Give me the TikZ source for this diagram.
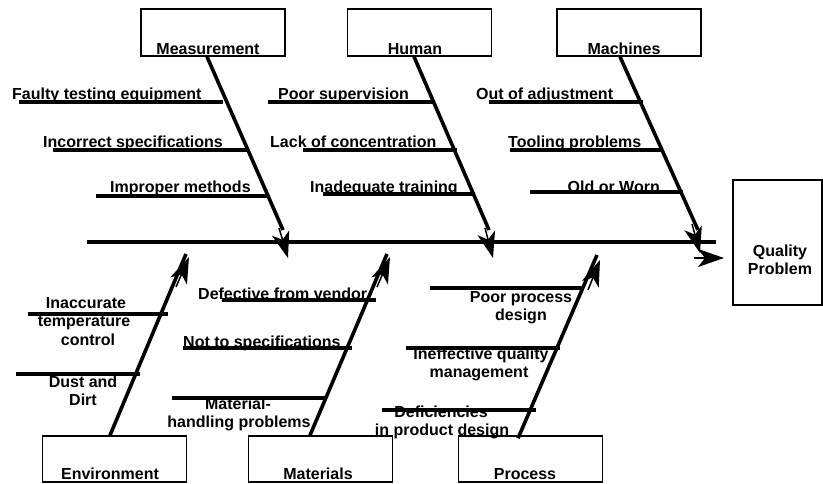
\documentclass[tikz,border=0pt]{standalone}
\usepackage{fontspec}
\setmainfont{Liberation Sans}
\usetikzlibrary{arrows.meta}
\begin{document}
\begin{tikzpicture}[x=1pt,y=-1pt,
  box/.style={draw, line width=1.4pt, rectangle, inner sep=0pt},
  catbox/.style={box, minimum width=144pt, minimum height=47pt},
  bone/.style={line width=3.6pt},
  rib/.style={line width=3.2pt},
  spine/.style={line width=3.6pt},
  head/.style={line width=1.5pt, -{Stealth[length=26pt,width=18pt,inset=7pt]}},
  lbl/.style={font=\bfseries\fontsize{16}{19}\selectfont, inner sep=0pt, anchor=base}]
\useasboundingbox (0,0) rectangle (823,483);

% category boxes
\node[catbox] (meas) at (213,32.5) {};
\node[catbox] (human) at (419.5,32.5) {};
\node[catbox] (mach) at (629,32.5) {};
\node[catbox, minimum height=46pt] (env) at (114.5,459) {};
\node[catbox, minimum height=46pt] (mat) at (320.5,459) {};
\node[catbox, minimum height=46pt] (proc) at (530.5,459) {};
\node[box, minimum width=89pt, minimum height=125pt] (qp) at (777.5,242.5) {};

% box captions
\node[lbl] (measlbl) at (208,54) {Measurement};
\node[lbl] (humanlbl) at (415,54) {Human};
\node[lbl] (machlbl) at (624,54) {Machines};
\node[lbl] (envlbl) at (110,479) {Environment};
\node[lbl] (matlbl) at (318,479) {Materials};
\node[lbl] (proclbl) at (525,479) {Process};
\node[lbl] (qlbla) at (780,256) {Quality};
\node[lbl] (qlblb) at (780,274) {Problem};

% spine
\coordinate (sL) at (87,242);
\coordinate (sR) at (716,242);
\draw[spine] (sL) -- (sR);
\coordinate (qa) at (694,258);
\coordinate (qin) at (733,258);
\draw[head, shorten >=9pt] (qa) -- (qin);

% upper bones
\coordinate (mB) at (283,230);
\coordinate (hB) at (489,230);
\coordinate (cB) at (698,230);
\draw[bone] (meas.south -| 207,0) -- (mB);
\draw[bone] (human.south -| 414,0) -- (hB);
\draw[bone] (mach.south -| 620,0) -- (cB);
\coordinate (mH1) at (279,228); \coordinate (mH2) at (288,258);
\coordinate (hH1) at (485,228); \coordinate (hH2) at (493,258);
\coordinate (cH1) at (692,224); \coordinate (cH2) at (700,253);
\draw[head] (mH1) -- (mH2);
\draw[head] (hH1) -- (hH2);
\draw[head] (cH1) -- (cH2);

% lower bones
\coordinate (eT) at (186,254);
\coordinate (tT) at (387,254);
\coordinate (pT) at (597,255);
\draw[bone] (env.north -| 110,0) -- (eT);
\draw[bone] (mat.north -| 310,0) -- (tT);
\draw[bone] (proc.north -| 518,0) ++(0,3) -- (pT);
\coordinate (eH1) at (176,287); \coordinate (eH2) at (189,257);
\coordinate (tH1) at (377,287); \coordinate (tH2) at (390,257);
\coordinate (pH1) at (588,290); \coordinate (pH2) at (600,260);
\draw[head] (eH1) -- (eH2);
\draw[head] (tH1) -- (tH2);
\draw[head] (pH1) -- (pH2);

% measurement causes
\coordinate (r1a) at (19,102);  \coordinate (r1b) at (223,102);
\coordinate (r2a) at (53,150);  \coordinate (r2b) at (248,150);
\coordinate (r3a) at (96,196);  \coordinate (r3b) at (267,196);
\draw[rib] (r1a) -- (r1b);
\draw[rib] (r2a) -- (r2b);
\draw[rib] (r3a) -- (r3b);
\node[lbl, anchor=base west] (c1) at (12,99) {Faulty testing equipment};
\node[lbl, anchor=base west] (c2) at (43,147) {Incorrect specifications};
\node[lbl, anchor=base west] (c3) at (110,192) {Improper methods};

% human causes
\coordinate (r4a) at (268,102); \coordinate (r4b) at (433,102);
\coordinate (r5a) at (303,150); \coordinate (r5b) at (457,150);
\coordinate (r6a) at (323,194); \coordinate (r6b) at (475,194);
\draw[rib] (r4a) -- (r4b);
\draw[rib] (r5a) -- (r5b);
\draw[rib] (r6a) -- (r6b);
\node[lbl, anchor=base west] (c4) at (278,99) {Poor supervision};
\node[lbl, anchor=base west] (c5) at (270,147) {Lack of concentration};
\node[lbl, anchor=base west] (c6) at (310,192) {Inadequate training};

% machine causes
\coordinate (r7a) at (489,102); \coordinate (r7b) at (643,102);
\coordinate (r8a) at (510,150); \coordinate (r8b) at (662,150);
\coordinate (r9a) at (530,192); \coordinate (r9b) at (683,192);
\draw[rib] (r7a) -- (r7b);
\draw[rib] (r8a) -- (r8b);
\draw[rib] (r9a) -- (r9b);
\node[lbl, anchor=base west] (c7) at (476,99) {Out of adjustment};
\node[lbl, anchor=base west] (c8) at (508,147) {Tooling problems};
\node[lbl, anchor=base east] (c9) at (660,192) {Old or Worn};

% environment causes
\coordinate (e1a) at (28,314);  \coordinate (e1b) at (168,314);
\coordinate (e2a) at (16,374);  \coordinate (e2b) at (140,374);
\draw[rib] (e1a) -- (e1b);
\draw[rib] (e2a) -- (e2b);
\node[lbl] (e1l1) at (86,308) {Inaccurate};
\node[lbl] (e1l2) at (84,326) {temperature};
\node[lbl] (e1l3) at (88,345) {control};
\node[lbl] (e2l1) at (83,387) {Dust and};
\node[lbl] (e2l2) at (83,405) {Dirt};

% material causes
\coordinate (t1a) at (222,300); \coordinate (t1b) at (376,300);
\coordinate (t2a) at (183,348); \coordinate (t2b) at (352,348);
\coordinate (t3a) at (172,398); \coordinate (t3b) at (325,398);
\draw[rib] (t1a) -- (t1b);
\draw[rib] (t2a) -- (t2b);
\draw[rib] (t3a) -- (t3b);
\node[lbl, anchor=base west] (t1l) at (198,299) {Defective from vendor};
\node[lbl, anchor=base west] (t2l) at (183,347) {Not to specifications};
\node[lbl] (t3l1) at (238,409) {Material-};
\node[lbl] (t3l2) at (239,427) {handling problems};

% process causes
\coordinate (p1a) at (430,288); \coordinate (p1b) at (583,288);
\coordinate (p2a) at (406,348); \coordinate (p2b) at (560,348);
\coordinate (p3a) at (382,410); \coordinate (p3b) at (536,410);
\draw[rib] (p1a) -- (p1b);
\draw[rib] (p2a) -- (p2b);
\draw[rib] (p3a) -- (p3b);
\node[lbl] (p1l1) at (521,302) {Poor process};
\node[lbl] (p1l2) at (521,320) {design};
\node[lbl] (p2l1) at (481,359) {Ineffective quality};
\node[lbl] (p2l2) at (479,377) {management};
\node[lbl] (p3l1) at (441,417) {Deficiencies};
\node[lbl] (p3l2) at (442,435) {in product design};
\end{tikzpicture}
\end{document}
